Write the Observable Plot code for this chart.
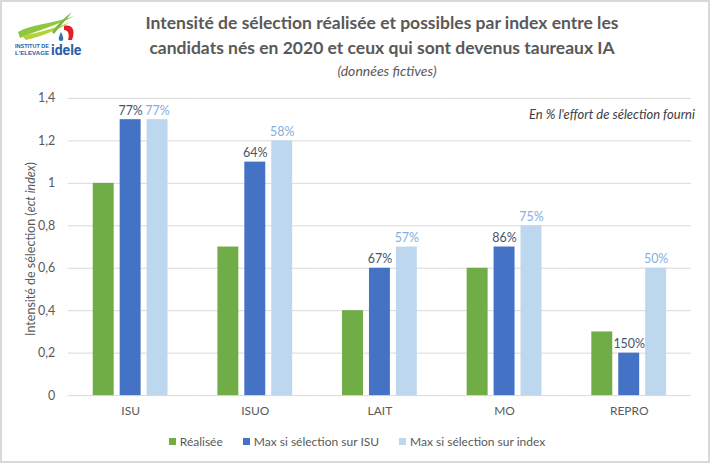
<!DOCTYPE html>
<html><head><meta charset="utf-8">
<script src="https://cdn.jsdelivr.net/npm/d3@7"></script>
<script src="https://cdn.jsdelivr.net/npm/@observablehq/plot@0.6"></script>
<style>
html,body{margin:0;padding:0;background:#fff;}
#frame{position:relative;width:710px;height:463px;box-sizing:border-box;border:2px solid #d9d9d9;background:#fff;font-family:Lato,"Open Sans",sans-serif;overflow:hidden;}
#title{position:absolute;left:90px;width:580px;top:8px;text-align:center;font-weight:bold;font-size:17.5px;line-height:25px;color:#595959;}
#subtitle{position:absolute;left:90px;width:590px;top:60px;text-align:center;font-style:italic;font-size:14px;color:#595959;}
#logo{position:absolute;left:10px;top:8px;}
#chart{position:absolute;left:-2px;top:78px;}
#ylabel{position:absolute;left:28px;top:247px;transform:translate(-50%,-50%) rotate(-90deg);white-space:nowrap;font-size:12.5px;color:#595959;}
#note{position:absolute;right:13px;top:104px;font-style:italic;font-size:13px;color:#404040;}
#legend{position:absolute;left:0;width:710px;top:432px;display:flex;justify-content:center;gap:20px;font-size:12px;color:#595959;}
#legend span.sw{display:inline-block;width:7px;height:7px;margin-right:4px;vertical-align:middle;position:relative;top:-1px;}
</style></head>
<body>
<div id="frame">
  <svg id="logo" width="70" height="50" viewBox="0 0 70 50">
    <path d="M6 22 C 20 14, 40 14, 62 6 C 44 16, 26 20, 8 28 Z" fill="#8dc63f"/>
    <path d="M10 26 C 28 22, 44 18, 58 12 C 46 20, 30 26, 14 30 Z" fill="#b5d334"/>
    <path d="M40 22 C 46 14, 52 8, 60 2 C 54 10, 48 16, 42 24 Z" fill="#7ab648"/>
    <path d="M52 16 C 60 14, 64 20, 60 30 L 56 30 C 58 24, 56 20, 52 20 Z" fill="#e31e24"/>
    <path d="M49 22 C 46 28, 46 31, 49 31 C 52 31, 52 28, 49 22 Z" fill="#3a6fb5"/>
    <text x="3" y="38" font-family="Liberation Sans Narrow, Liberation Sans, sans-serif" font-size="5" font-weight="bold" fill="#2a5ea8" textLength="34" lengthAdjust="spacingAndGlyphs">INSTITUT DE</text>
    <text x="3" y="45" font-family="Liberation Sans Narrow, Liberation Sans, sans-serif" font-size="5" font-weight="bold" fill="#2a5ea8" textLength="34" lengthAdjust="spacingAndGlyphs">L'ELEVAGE</text>
    <text x="39" y="45" font-family="Roboto, sans-serif" font-size="14" font-weight="bold" fill="#2a5ea8">idele</text>
  </svg>
  <div id="title">Intensité de sélection réalisée et possibles par index entre les<br>candidats nés en 2020 et ceux qui sont devenus taureaux IA</div>
  <div id="subtitle">(données fictives)</div>
  <div id="chart"></div>
  <div id="ylabel">Intensité de sélection (<i>ect index</i>)</div>
  <div id="note">En % l'effort de sélection fourni</div>
  <div id="legend"></div>
</div>
<script>
const categories = ["ISU", "ISUO", "LAIT", "MO", "REPRO"];
const series = ["Réalisée", "Max si sélection sur ISU", "Max si sélection sur index"];
const realisee = [1.0, 0.7, 0.4, 0.6, 0.3];
const maxISU = [1.3, 1.1, 0.6, 0.7, 0.2];
const maxIndex = [1.3, 1.2, 0.7, 0.8, 0.6];
const labelsISU = ["77%", "64%", "67%", "86%", "150%"];
const labelsIndex = ["77%", "58%", "57%", "75%", "50%"];
const yTicks = [0, 0.2, 0.4, 0.6, 0.8, 1, 1.2, 1.4];
const barColors = ["#70ad47", "#4472c4", "#bdd7ee"];
const labelColors = ["#44546a", "#7fb0e0"];

const values = [realisee, maxISU, maxIndex];
const labels = [null, labelsISU, labelsIndex];
const data = [];
categories.forEach((c, i) => {
  series.forEach((s, j) => {
    data.push({cat: c, serie: s, value: values[j][i], label: labels[j] ? labels[j][i] : null});
  });
});

const fmt = d => String(d).replace(".", ",");

const chart = Plot.plot({
  width: 710,
  height: 340,
  marginTop: 18,
  marginBottom: 24,
  marginLeft: 68,
  marginRight: 17,
  style: {fontFamily: "Lato, 'Open Sans', sans-serif", fontSize: "12px", color: "#595959", background: "transparent"},
  fx: {domain: categories, padding: 0, label: null},
  x: {domain: series, paddingInner: 0.225, paddingOuter: 0.845, axis: null},
  y: {domain: [0, 1.4], label: null},
  color: {domain: series, range: barColors},
  marks: [
    Plot.gridY(yTicks, {stroke: "#d9d9d9", strokeOpacity: 1, strokeWidth: 1}),
    Plot.axisY(yTicks, {tickSize: 0, tickPadding: 13, tickFormat: fmt, fontSize: 12.5, fill: "#595959", label: null}),
    Plot.axisFx({anchor: "bottom", tickSize: 0, tickPadding: 11, fontSize: 12, fill: "#595959", label: null}),
    Plot.barY(data, {fx: "cat", x: "serie", y: "value", fill: "serie"}),
    Plot.text(data.filter(d => d.serie === series[1]), {fx: "cat", x: "serie", y: "value", text: "label", dy: -9, fill: labelColors[0], fontSize: 12.5}),
    Plot.text(data.filter(d => d.serie === series[2]), {fx: "cat", x: "serie", y: "value", text: "label", dy: -9, fill: labelColors[1], fontSize: 12.5})
  ]
});
document.getElementById("chart").appendChild(chart);

const legend = document.getElementById("legend");
series.forEach((s, j) => {
  const item = document.createElement("div");
  const sw = document.createElement("span");
  sw.className = "sw";
  sw.style.background = barColors[j];
  item.appendChild(sw);
  item.appendChild(document.createTextNode(s));
  legend.appendChild(item);
});
</script>
</body></html>
